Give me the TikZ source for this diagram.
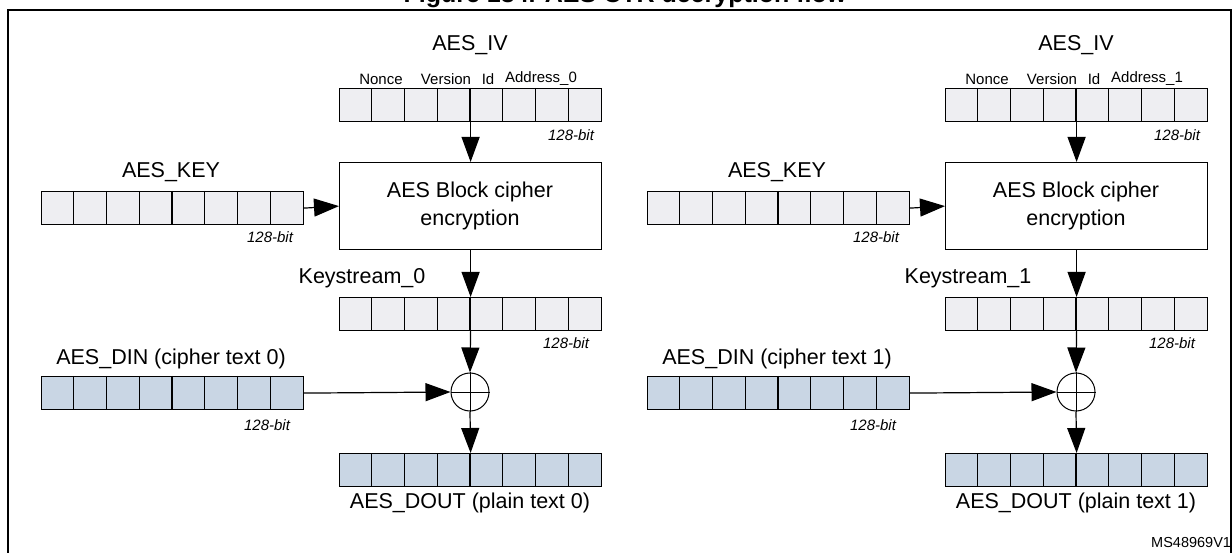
\documentclass[tikz,border=0pt]{standalone}
\usepackage{fontspec}
\setmainfont{Liberation Sans}
\usetikzlibrary{arrows.meta,calc}
\definecolor{gcell}{HTML}{EEEEF2}
\definecolor{bcell}{HTML}{C9D6E4}
\tikzset{
  reg/.style={draw,line width=1.2pt,minimum width=262pt,minimum height=33pt,anchor=north west,inner sep=0pt},
  lbl/.style={font=\fontsize{21.5}{24}\selectfont,inner sep=0pt},
  sub/.style={font=\fontsize{15}{17}\selectfont,inner sep=0pt},
  bits/.style={font=\fontsize{15}{17}\selectfont\itshape,inner sep=0pt},
  arr/.style={line width=1.2pt,-{Triangle[length=25pt,width=18pt]}},
}
\newcommand\myreg[4]{%
  \node[reg,fill=#4] (#1) at (#2,#3) {};
  \foreach \k in {1,...,7}{\draw[line width=1.2pt] ($(#1.north west)+(\k*32.75,0)$) -- ($(#1.south west)+(\k*32.75,0)$);}
}
\newcommand\mypanel[3]{%
\begin{scope}[xshift=#2pt]
  \myreg{iv#1}{339}{88}{gcell}
  \node[lbl] (ivl#1) at (470,45) {AES\_IV};
  \node[sub] (n#1) at (381,79) {Nonce};
  \node[sub] (v#1) at (446,79) {Version};
  \node[sub] (i#1) at (488,79) {Id};
  \node[sub] (a#1) at (541,79) {Address\_#3};
  \node[bits] (b1#1) at (571,135) {128-bit};
  \node[draw,line width=1.2pt,minimum width=262pt,minimum height=87pt,anchor=north west,inner sep=0pt] (box#1) at (339,162) {};
  \node[lbl,align=center] (bt#1) at (470,206) {AES Block cipher\\[4pt]encryption};
  \myreg{key#1}{41}{191}{gcell}
  \node[lbl] (kl#1) at (171,172) {AES\_KEY};
  \node[bits] (b2#1) at (270,237) {128-bit};
  \myreg{ks#1}{339}{297}{gcell}
  \node[lbl] (ksl#1) at (362,278) {Keystream\_#3};
  \node[bits] (b3#1) at (566,343) {128-bit};
  \myreg{din#1}{41}{376}{bcell}
  \node[lbl] (dl#1) at (171,359) {AES\_DIN (cipher text #3)};
  \node[bits] (b4#1) at (267,425) {128-bit};
  \node[draw,circle,line width=1pt,minimum size=38pt,inner sep=0pt] (x#1) at (470,392) {};
  \draw[line width=0.8pt] (x#1.north) -- (x#1.south) (x#1.west) -- (x#1.east);
  \myreg{dout#1}{339}{453}{bcell}
  \node[lbl] (dol#1) at (470,503) {AES\_DOUT (plain text #3)};
  \draw[line width=1.2pt] (iv#1.north) -- (iv#1.south);
  \draw[line width=1.2pt] (ks#1.north) -- (ks#1.south);
  \draw[arr] (iv#1.south) -- (box#1.north);
  \draw[arr] (key#1.east) -- (box#1.west);
  \draw[arr] (box#1.south) -- (ks#1.north);
  \draw[arr] (ks#1.south) -- (x#1.north);
  \draw[arr] (din#1.east) -- (x#1.west);
  \draw[arr] (x#1.south) -- (dout#1.north);
\end{scope}}
\begin{document}
\begin{tikzpicture}[x=1pt,y=-1pt]
\useasboundingbox (0,0) rectangle (1232,553);
\clip (0,0) rectangle (1232,553);
\node[font=\fontsize{25}{28}\selectfont\bfseries,inner sep=0pt,anchor=base] (title) at (625,3) {Figure 134. AES CTR decryption flow};
\draw[line width=2pt] (8,10) rectangle (1231,600);
\mypanel{A}{0}{0}
\mypanel{B}{606}{1}
\node[font=\fontsize{14.5}{16}\selectfont,anchor=west,inner sep=0pt] (ms) at (1151,543) {MS48969V1};
\end{tikzpicture}
\end{document}
